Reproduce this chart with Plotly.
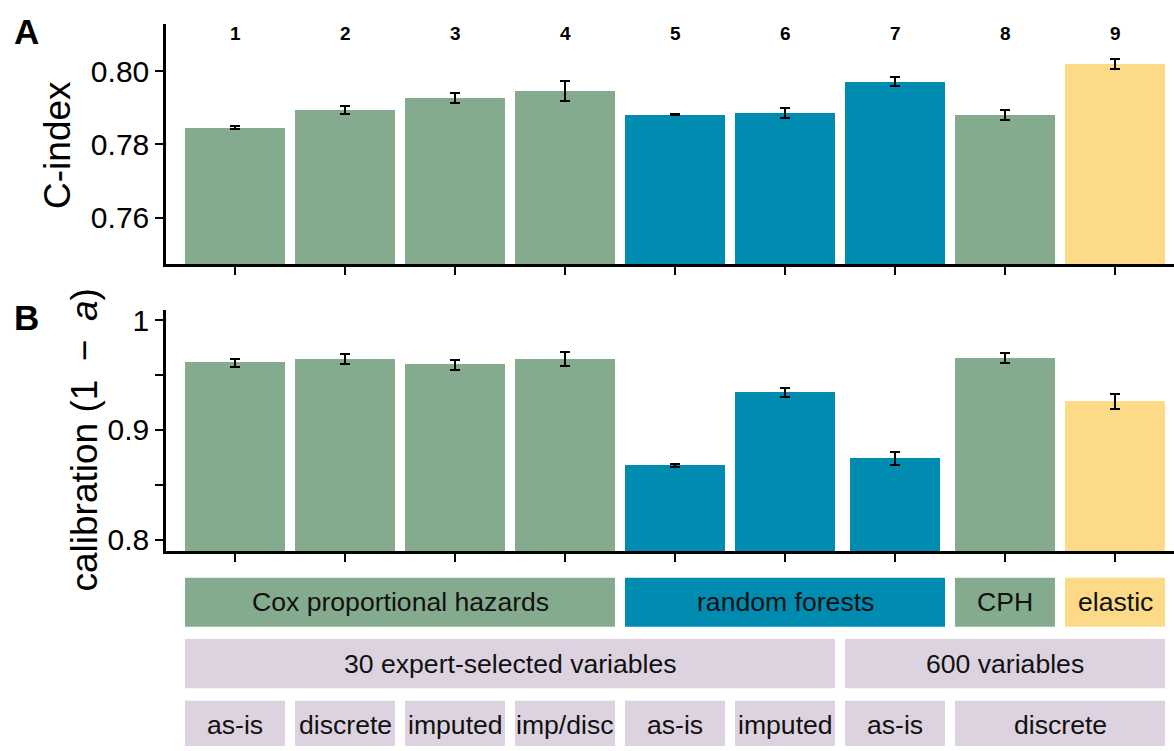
import plotly.graph_objects as go

# ---- data -------------------------------------------------------------
model_ids = ["1", "2", "3", "4", "5", "6", "7", "8", "9"]
model_family = ["cox", "cox", "cox", "cox", "rf", "rf", "rf", "cox", "elastic"]

cindex_mean = [0.7846, 0.7894, 0.7927, 0.7946, 0.7881, 0.7885, 0.7972, 0.7881, 0.8020]
cindex_err = [0.00045, 0.0010, 0.0014, 0.0027, 0.0002, 0.0014, 0.0012, 0.00135, 0.0014]

calib_mean = [0.9611, 0.9647, 0.9594, 0.9647, 0.8676, 0.9342, 0.8739, 0.9656, 0.9261]
calib_err = [0.0036, 0.0048, 0.0048, 0.0063, 0.0010, 0.0039, 0.0057, 0.0045, 0.0066]

# label rows under the bars: (text, first model, last model)
method_rows = [("Cox proportional hazards", 1, 4, "cox"),
               ("random forests", 5, 7, "rf"),
               ("CPH", 8, 8, "cox"),
               ("elastic", 9, 9, "elastic")]
variable_rows = [("30 expert-selected variables", 1, 6),
                 ("600 variables", 7, 9)]
prep_rows = [("as-is", 1, 1), ("discrete", 2, 2), ("imputed", 3, 3),
             ("imp/disc", 4, 4), ("as-is", 5, 5), ("imputed", 6, 6),
             ("as-is", 7, 7), ("discrete", 8, 9)]

cindex_ticks = [0.76, 0.78, 0.80]
cindex_ticktext = ["0.76", "0.78", "0.80"]
calib_ticks = [0.80, 0.85, 0.90, 0.95, 1.00]
calib_ticktext = ["0.8", "", "0.9", "", "1"]

# ---- styling ----------------------------------------------------------
family_colors = {"cox": "#85AB8E", "rf": "#008CB0", "elastic": "#FDDA88"}
lavender = "#DDD3E0"
FONT = "Liberation Sans, Arial, Helvetica, sans-serif"
W, H = 1174, 751

x_pos = list(range(1, len(model_ids) + 1))
bar_colors = [family_colors[f] for f in model_family]
bar_w = 0.909
calib_widths = [bar_w] * len(model_ids)
calib_widths[6] = 0.82

def py(px):
    """pixel row (from top) -> paper y"""
    return 1 - px / H

x_dom = [166 / W, 1.0]
x_range = [0.3727, 9.5364]

fig = go.Figure()

err_style = dict(type="data", color="black", thickness=2, width=5)

fig.add_trace(go.Bar(
    x=x_pos, y=cindex_mean, width=bar_w,
    marker=dict(color=bar_colors, line=dict(width=0)),
    error_y=dict(array=cindex_err, **err_style),
    xaxis="x", yaxis="y", showlegend=False, hoverinfo="skip"))

fig.add_trace(go.Bar(
    x=x_pos, y=calib_mean, width=calib_widths,
    marker=dict(color=bar_colors, line=dict(width=0)),
    error_y=dict(array=calib_err, **err_style),
    xaxis="x2", yaxis="y2", showlegend=False, hoverinfo="skip"))

axis_common = dict(showline=True, linecolor="black", linewidth=2.5,
                   ticks="outside", ticklen=8, tickwidth=2, tickcolor="black",
                   showgrid=False, zeroline=False, fixedrange=True)

shapes = []
annotations = []

# boxes with labels beneath the bars
def add_row(rows, level, colors):
    for i, row in enumerate(rows):
        text, a, b = row[0], row[1], row[2]
        shapes.append(dict(type="rect", xref="x3", yref="y3",
                           x0=a - bar_w / 2, x1=b + bar_w / 2,
                           y0=level - 0.4, y1=level + 0.4,
                           fillcolor=colors[i], line=dict(width=0), layer="below"))
        annotations.append(dict(x=(a + b) / 2, y=level, xref="x3", yref="y3",
                                text=text, showarrow=False,
                                font=dict(family=FONT, size=26.6, color="#111111"),
                                xanchor="center", yanchor="middle"))

add_row(method_rows, 2, [family_colors[r[3]] for r in method_rows])
add_row(variable_rows, 1, [lavender] * len(variable_rows))
add_row(prep_rows, 0, [lavender] * len(prep_rows))

# model numbers on top of panel A
for xi, lab in zip(x_pos, model_ids):
    annotations.append(dict(x=xi, y=py(28), xref="x", yref="paper", text=f"<b>{lab}</b>",
                            showarrow=False, xanchor="center", yanchor="middle",
                            font=dict(family=FONT, size=19, color="black")))

# panel letters
annotations.append(dict(x=26 / W, y=py(26), xref="paper", yref="paper", text="<b>A</b>",
                        showarrow=False, xanchor="center", yanchor="middle",
                        font=dict(family=FONT, size=35, color="black")))
annotations.append(dict(x=26 / W, y=py(316), xref="paper", yref="paper", text="<b>B</b>",
                        showarrow=False, xanchor="center", yanchor="middle",
                        font=dict(family=FONT, size=35, color="black")))

# y-axis titles
annotations.append(dict(x=58 / W, y=py(141), xref="paper", yref="paper", text="C-index",
                        textangle=-90, showarrow=False, xanchor="center", yanchor="middle",
                        font=dict(family=FONT, size=37, color="black")))
annotations.append(dict(x=85 / W, y=py(441), xref="paper", yref="paper",
                        text="calibration (1\u2002\u2212\u2002<i>a</i>)",
                        textangle=-90, showarrow=False, xanchor="center", yanchor="middle",
                        font=dict(family=FONT, size=37, color="black")))

fig.update_layout(
    width=W, height=H,
    margin=dict(l=0, r=0, t=0, b=0, pad=0),
    paper_bgcolor="white", plot_bgcolor="white",
    font=dict(family=FONT, color="black"),
    bargap=0,
    xaxis=dict(domain=x_dom, range=x_range, anchor="y", tickvals=x_pos,
               showticklabels=False, **axis_common),
    yaxis=dict(domain=[py(262), py(18)], range=[0.7473, 0.8129], anchor="x",
               tickvals=cindex_ticks, ticktext=cindex_ticktext,
               tickfont=dict(family=FONT, size=30, color="black"), **axis_common),
    xaxis2=dict(domain=x_dom, range=x_range, anchor="y2", tickvals=x_pos,
                showticklabels=False, **axis_common),
    yaxis2=dict(domain=[py(553), py(309)], range=[0.7896, 1.009], anchor="x2",
                tickvals=calib_ticks, ticktext=calib_ticktext,
                tickfont=dict(family=FONT, size=30, color="black"), **axis_common),
    xaxis3=dict(domain=x_dom, range=x_range, anchor="y3", visible=False, fixedrange=True),
    yaxis3=dict(domain=[0, py(580)], range=[-0.336, 2.4], anchor="x3", visible=False,
                fixedrange=True),
    shapes=shapes,
    annotations=annotations,
)

fig.write_html("out.html", config={"displayModeBar": False})
